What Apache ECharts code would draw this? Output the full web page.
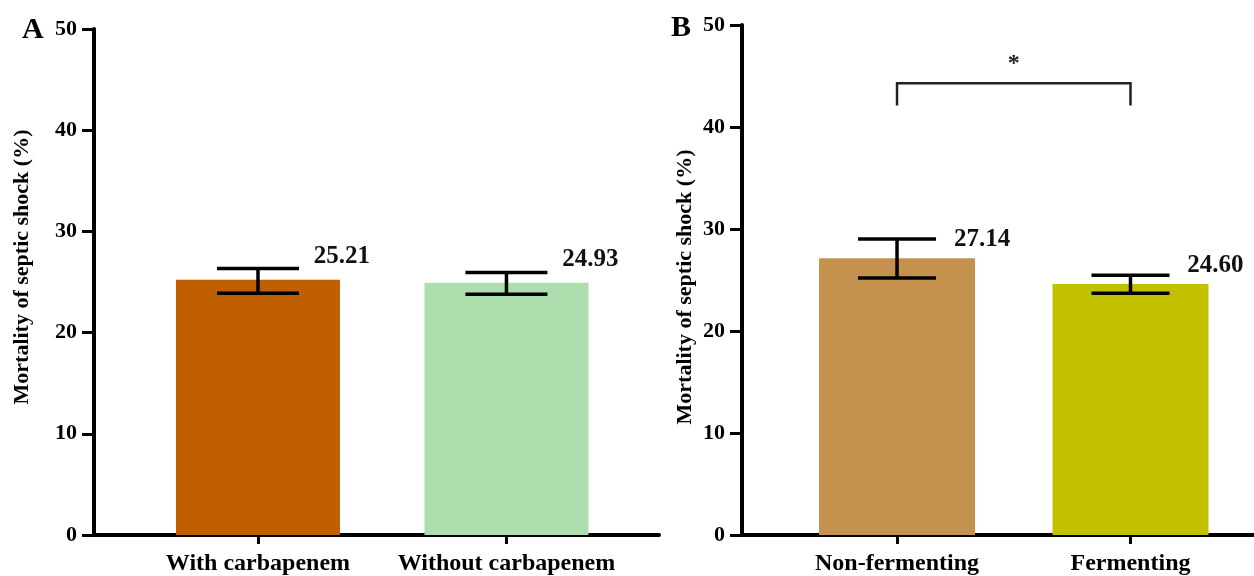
<!DOCTYPE html>
<html>
<head>
<meta charset="utf-8">
<script src="https://cdn.jsdelivr.net/npm/echarts@6/dist/echarts.min.js"></script>
<style>
html,body{margin:0;padding:0;background:#fff;}
#chart{width:1254px;height:576px;}
</style>
</head>
<body>
<div id="chart"></div>
<script>
// ---- data ----
const catsA = ['With carbapenem', 'Without carbapenem'];
const valsA = [25.21, 24.93];
const errLowA = [23.9, 23.8];
const errHighA = [26.33, 25.94];
const colorsA = ['#C05F00', '#ADDEAD'];

const catsB = ['Non-fermenting', 'Fermenting'];
const valsB = [27.14, 24.60];
const errLowB = [25.2, 23.7];
const errHighB = [29.03, 25.47];
const colorsB = ['#C4914F', '#C2C100'];

const yTicks = [0, 10, 20, 30, 40, 50];
const sigPair = [1, 2];
const sigLow = 42.1, sigHigh = 44.3, sigStarY = 46.2, sigText = '*';
const yTitle = 'Mortality of septic shock (%)';
const panelLabels = ['A', 'B'];

const FONT = 'Liberation Serif';
const chart = echarts.init(document.getElementById('chart'), null, {renderer: 'canvas'});

function xAxisDef(grid, cats, min, max) {
  return {
    type: 'value', gridIndex: grid, min: min, max: max,
    splitLine: {show: false},
    axisLine: {show: true, onZero: false, lineStyle: {color: '#000', width: 4}},
    axisTick: {show: true, customValues: [1, 2], length: 9, lineStyle: {color: '#000', width: 3}},
    axisLabel: {show: true, customValues: [1, 2], margin: 17,
      formatter: v => cats[Math.round(v) - 1] || '',
      color: '#000', fontFamily: FONT, fontWeight: 'bold', fontSize: 24}
  };
}
function yAxisDef(grid, gap, pad, size) {
  return {
    type: 'value', gridIndex: grid, min: 0, max: 50, interval: 10,
    splitLine: {show: false},
    axisLine: {show: true, lineStyle: {color: '#000', width: 4}},
    axisTick: {show: true, length: 12, lineStyle: {color: '#000', width: 3}},
    axisLabel: {margin: 17, color: '#000', fontFamily: FONT, fontWeight: 'bold', fontSize: 22,
      formatter: v => yTicks.indexOf(v) >= 0 ? String(v) : ''},
    name: yTitle, nameLocation: 'middle', nameGap: gap, nameRotate: 90,
    nameTextStyle: {color: '#000', fontFamily: FONT, fontWeight: 'bold', fontSize: size, padding: pad}
  };
}
function barSeries(idx, vals, colors, width, offset) {
  return {
    type: 'bar', xAxisIndex: idx, yAxisIndex: idx, barWidth: width,
    data: vals.map((v, i) => ({value: [i + 1, v], itemStyle: {color: colors[i]}})),
    label: {show: true, position: 'top', offset: offset, distance: 5,
      formatter: p => p.value[1].toFixed(2),
      color: '#111', fontFamily: FONT, fontWeight: 'bold', fontSize: 25},
    silent: true, z: 2
  };
}
function errSeries(idx, lows, highs, capHalf) {
  return {
    type: 'custom', xAxisIndex: idx, yAxisIndex: idx, clip: false, silent: true, z: 5,
    data: lows.map((lo, i) => [i + 1, lo, highs[i]]),
    renderItem: function (params, api) {
      const x = api.value(0);
      const pLo = api.coord([x, api.value(1)]);
      const pHi = api.coord([x, api.value(2)]);
      const st = {stroke: '#000', lineWidth: 3.5};
      return {type: 'group', children: [
        {type: 'line', shape: {x1: pLo[0], y1: pLo[1], x2: pHi[0], y2: pHi[1]}, style: st},
        {type: 'line', shape: {x1: pHi[0] - capHalf, y1: pHi[1], x2: pHi[0] + capHalf, y2: pHi[1]}, style: st},
        {type: 'line', shape: {x1: pLo[0] - capHalf, y1: pLo[1], x2: pLo[0] + capHalf, y2: pLo[1]}, style: st}
      ]};
    }
  };
}

const option = {
  backgroundColor: '#fff',
  animation: false,
  title: [
    {text: panelLabels[0], left: 17, top: 10, textStyle: {fontFamily: FONT, fontWeight: 'bold', fontSize: 30, color: '#000'}},
    {text: panelLabels[1], left: 666, top: 8, textStyle: {fontFamily: FONT, fontWeight: 'bold', fontSize: 30, color: '#000'}}
  ],
  grid: [
    {left: 94, top: 29, width: 565, height: 508},
    {left: 742, top: 25, width: 512, height: 515}
  ],
  xAxis: [
    xAxisDef(0, catsA, 0.34, 2.614),
    xAxisDef(1, catsB, 0.336, 2.529)
  ],
  yAxis: [
    yAxisDef(0, 61, [0, 0, 0, 30], 22),
    yAxisDef(1, 46, [0, 14, 0, 0], 22)
  ],
  series: [
    barSeries(0, valsA, colorsA, 164, [84, -6]),
    errSeries(0, errLowA, errHighA, 41),
    barSeries(1, valsB, colorsB, 156, [85, -1]),
    errSeries(1, errLowB, errHighB, 39),
    {
      type: 'custom', xAxisIndex: 1, yAxisIndex: 1, clip: false, silent: true, z: 5,
      data: [[sigPair[0], sigPair[1], sigLow, sigHigh, sigStarY]],
      renderItem: function (params, api) {
        const a = api.coord([api.value(0), api.value(2)]);
        const b = api.coord([api.value(0), api.value(3)]);
        const c = api.coord([api.value(1), api.value(3)]);
        const d = api.coord([api.value(1), api.value(2)]);
        const s = api.coord([(api.value(0) + api.value(1)) / 2, api.value(4)]);
        return {type: 'group', children: [
          {type: 'polyline', shape: {points: [a, b, c, d]}, style: {stroke: '#222', lineWidth: 2.5, fill: null}},
          {type: 'text', x: s[0], y: s[1], style: {text: sigText, align: 'center', verticalAlign: 'middle',
            fontFamily: FONT, fontWeight: 'bold', fontSize: 24, fill: '#222'}}
        ]};
      }
    }
  ]
};
chart.setOption(option);
</script>
</body>
</html>
